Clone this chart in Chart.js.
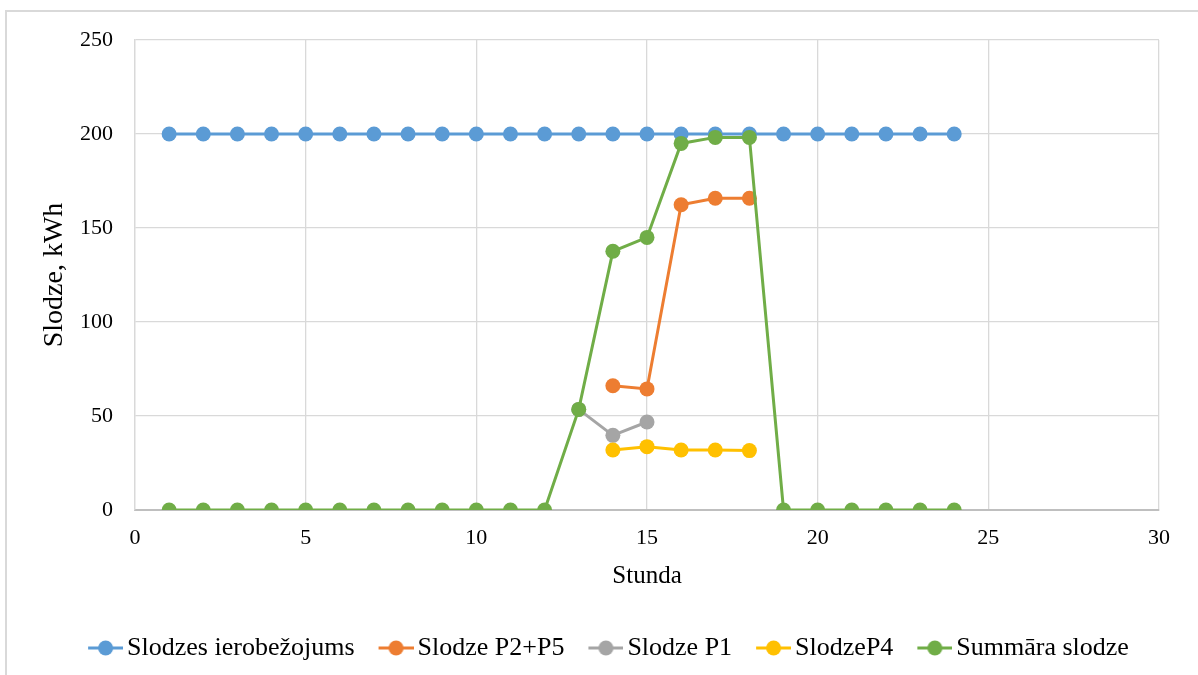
<!DOCTYPE html>
<html>
<head>
<meta charset="utf-8">
<script src="https://cdn.jsdelivr.net/npm/chart.js@4.4.1/dist/chart.umd.min.js"></script>
<style>
  html, body { margin: 0; padding: 0; background: #ffffff; }
  #wrap { position: relative; width: 1198px; height: 675px; overflow: hidden; }
  #frame { position: absolute; left: 5px; top: 10px; width: 1300px; height: 800px; border-left: 2px solid #d9d9d9; border-top: 2px solid #d9d9d9; box-sizing: border-box; }
  canvas { position: absolute; left: 0; top: 0; }
</style>
</head>
<body>
<div id="wrap">
  <div id="frame"></div>
  <canvas id="c" width="1198" height="675"></canvas>
</div>
<script>
// ---- data ----
const hours = [1,2,3,4,5,6,7,8,9,10,11,12,13,14,15,16,17,18,19,20,21,22,23,24];
const limitValues = [200,200,200,200,200,200,200,200,200,200,200,200,200,200,200,200,200,200,200,200,200,200,200,200];
const p2p5Hours = [14,15,16,17,18];
const p2p5Values = [66.1,64.4,162.4,165.8,165.8];
const p1Hours = [13,14,15];
const p1Values = [53.5,39.7,46.8];
const p4Hours = [14,15,16,17,18];
const p4Values = [31.9,33.7,31.9,31.9,31.6];
const totalValues = [0,0,0,0,0,0,0,0,0,0,0,0,53.5,137.6,145.0,195.0,198.2,198.2,0,0,0,0,0,0];
const seriesNames = ['Slodzes ierobežojums','Slodze P2+P5','Slodze P1','SlodzeP4','Summāra slodze'];
const xTicks = [0,5,10,15,20,25,30];
const yTicks = [0,50,100,150,200,250];
const colors = ['#5B9BD5','#ED7D31','#A5A5A5','#FFC000','#70AD47'];

function pts(xs, ys) { return xs.map((x, i) => ({x: x, y: ys[i]})); }

// legend symbol: line with a marker; image is centred at x+13 and spans x-9 .. x+35
function legendIcon(color) {
  const cv = document.createElement('canvas');
  cv.width = 44; cv.height = 16;
  const g = cv.getContext('2d');
  g.strokeStyle = color; g.lineWidth = 3;
  g.beginPath(); g.moveTo(9, 8); g.lineTo(44, 8); g.stroke();
  g.fillStyle = color;
  g.beginPath(); g.arc(26.5, 8, 7.5, 0, Math.PI * 2); g.fill();
  return cv;
}

const dataSets = [
  pts(hours, limitValues),
  pts(p2p5Hours, p2p5Values),
  pts(p1Hours, p1Values),
  pts(p4Hours, p4Values),
  pts(hours, totalValues)
];

const font = 'Liberation Serif, Times New Roman, serif';

const shiftLegend = {
  id: 'shiftLegend',
  afterLayout(chart) {
    if (chart.legend) { chart.legend.left += 24; chart.legend.right += 24; }
  }
};

new Chart(document.getElementById('c'), {
  type: 'line',
  plugins: [shiftLegend],
  data: {
    datasets: dataSets.map((d, i) => ({
      label: seriesNames[i],
      data: d,
      borderColor: colors[i],
      backgroundColor: colors[i],
      borderWidth: 3,
      pointRadius: 7.5,
      pointHoverRadius: 7.5,
      pointBorderWidth: 0,
      tension: 0,
      fill: false,
      order: 4 - i
    }))
  },
  options: {
    responsive: false,
    animation: false,
    devicePixelRatio: 1,
    layout: { padding: { left: 10, right: 39, top: 40, bottom: 4 } },
    plugins: {
      tooltip: { enabled: false },
      legend: {
        position: 'bottom',
        labels: {
          font: { family: font, size: 26 },
          color: '#000',
          usePointStyle: true,
          pointStyleWidth: 26,
          boxHeight: 16,
          padding: 24,
          generateLabels: (chart) => seriesNames.map((n, i) => ({
            text: n,
            pointStyle: legendIcon(colors[i]),
            fillStyle: colors[i],
            strokeStyle: colors[i],
            lineWidth: 0,
            datasetIndex: i,
            hidden: false
          }))
        }
      }
    },
    scales: {
      x: {
        type: 'linear',
        min: 0, max: 30,
        afterBuildTicks: (s) => { s.ticks = xTicks.map(v => ({value: v})); },
        ticks: { font: { family: font, size: 22 }, color: '#000', padding: 15 },
        grid: { color: '#d9d9d9', lineWidth: 1.3, drawTicks: false },
        border: { color: '#bfbfbf', width: 2 },
        title: { display: true, text: 'Stunda', font: { family: font, size: 25 }, color: '#000', padding: { top: 0, bottom: 20 } },
        afterFit: (s) => { s.height = 101; }
      },
      y: {
        min: 0, max: 250,
        afterBuildTicks: (s) => { s.ticks = yTicks.map(v => ({value: v})); },
        ticks: { font: { family: font, size: 22 }, color: '#000', padding: 22 },
        grid: { color: '#d9d9d9', lineWidth: 1.3, drawTicks: false },
        border: { color: '#d9d9d9', width: 1.3 },
        title: { display: true, text: 'Slodze, kWh', font: { family: font, size: 28 }, color: '#000', padding: { top: 28, bottom: 0 } },
        afterFit: (s) => { s.width = 125; }
      }
    }
  }
});
</script>
</body>
</html>
